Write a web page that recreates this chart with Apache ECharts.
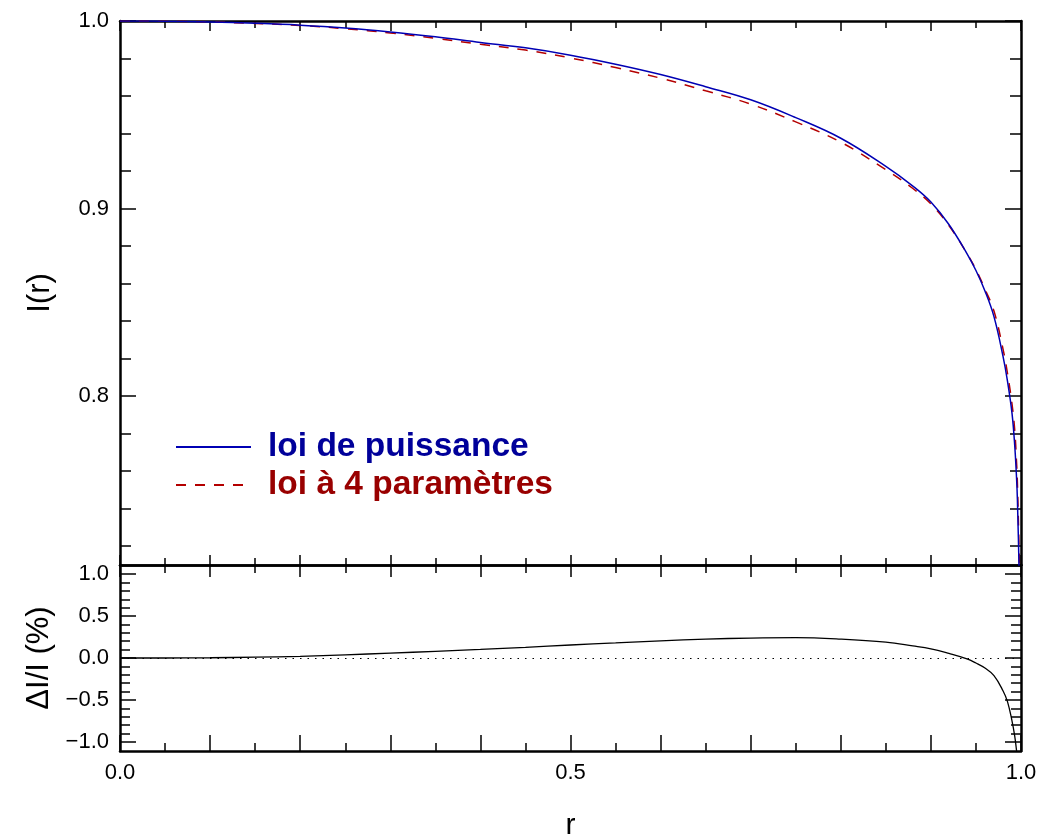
<!DOCTYPE html>
<html><head><meta charset="utf-8">
<script src="https://cdn.jsdelivr.net/npm/echarts@6/dist/echarts.min.js"></script>
<style>html,body{margin:0;padding:0;background:#fff}#c{width:1040px;height:839px}</style>
</head><body><div id="c"></div>
<script>
// ---- data ----
const rVals = [0, 0.05, 0.1, 0.15, 0.2, 0.25, 0.3, 0.35, 0.4, 0.45, 0.5, 0.55, 0.6, 0.65, 0.7, 0.75, 0.8, 0.85, 0.88, 0.9, 0.92, 0.94, 0.95, 0.96, 0.97, 0.98, 0.985, 0.99, 0.993, 0.995, 0.996, 0.998, 0.999];
const powerLaw = [1.0, 0.9999, 0.9995, 0.9988, 0.9978, 0.9963, 0.9942, 0.9916, 0.9886, 0.9857, 0.9818, 0.977, 0.9715, 0.965, 0.958, 0.9485, 0.9375, 0.9225, 0.912, 0.9035, 0.8915, 0.876, 0.867, 0.8561, 0.8424, 0.8213, 0.808, 0.791, 0.774, 0.757, 0.745, 0.705, 0.68];
const fourParam = [1.0, 0.9999, 0.9995, 0.9987, 0.9976, 0.9959, 0.9936, 0.9908, 0.9876, 0.9845, 0.9803, 0.9752, 0.9695, 0.9628, 0.9557, 0.9462, 0.9354, 0.9207, 0.9107, 0.9025, 0.891, 0.8761, 0.8675, 0.8571, 0.8454, 0.8252, 0.8122, 0.7959, 0.7822, 0.7653, 0.754, 0.715, 0.69];
const deltaPct = [0, 0.0, 0.003, 0.01, 0.02, 0.038, 0.058, 0.08, 0.103, 0.128, 0.155, 0.18, 0.205, 0.225, 0.238, 0.243, 0.226, 0.19, 0.145, 0.11, 0.055, -0.01, -0.06, -0.12, -0.21, -0.39, -0.52, -0.75, -0.93, -1.1, -1.2, -1.5, -1.8];

const topMajorTicks = [0.8, 0.9, 1.0];
const topMinorTicks = [0.72, 0.74, 0.76, 0.78, 0.82, 0.84, 0.86, 0.88, 0.92, 0.94, 0.96, 0.98];
const botMajorTicks = [-1.0, -0.5, 0.0, 0.5, 1.0];
const botMinorTicks = [-0.9, -0.8, -0.7, -0.6, -0.4, -0.3, -0.2, -0.1, 0.1, 0.2, 0.3, 0.4, 0.6, 0.7, 0.8, 0.9];
const xLabelTicks = [0.0, 0.5, 1.0];

const seriesNames = ['loi de puissance', 'loi à 4 paramètres'];

// ---- chart ----
const FONT = 'Liberation Sans';
const fmt = v => (v < 0 ? '\u2212' : '') + Math.abs(v).toFixed(1);
const BORDER = {show: true, onZero: false, lineStyle: {color: '#000', width: 2.5}};
const NOLINE = {show: false, onZero: false};

function xAx(gridIndex, position, longLen, shortLen, labels) {
  return {
    type: 'value', gridIndex, position, min: 0, max: 1, interval: 0.1,
    axisLine: BORDER,
    axisTick: {show: true, inside: true, length: longLen, lineStyle: {color: '#000', width: 1.5}},
    minorTick: {show: true, splitNumber: 2, length: shortLen, lineStyle: {color: '#000', width: 1.5}},
    axisLabel: labels ? {show: true, customValues: xLabelTicks, formatter: fmt, fontSize: 22, color: '#000', fontFamily: FONT, margin: 11} : {show: false},
    splitLine: {show: false}, minorSplitLine: {show: false}
  };
}
function yAx(gridIndex, position, min, max, ticks, len, line, labels, name) {
  const o = {
    type: 'value', gridIndex, position, min, max,
    axisLine: line ? BORDER : NOLINE,
    axisTick: {show: true, inside: true, length: len, customValues: ticks, lineStyle: {color: '#000', width: 1.5}},
    axisLabel: labels ? {show: true, customValues: labels, formatter: fmt, fontSize: 22, color: '#000', fontFamily: FONT, margin: 11} : {show: false},
    splitLine: {show: false}
  };
  if (name) {
    o.name = name; o.nameLocation = 'middle'; o.nameGap = 64; o.nameRotate = 90;
    o.nameTextStyle = {fontSize: 31, color: '#000', fontFamily: FONT};
  }
  return o;
}

const chart = echarts.init(document.getElementById('c'), null, {renderer: 'canvas'});
chart.setOption({
  animation: false,
  backgroundColor: '#fff',
  grid: [
    {left: 120, top: 21, width: 901, height: 544, outerBoundsMode: 'none', containLabel: false},
    {left: 120, top: 565, width: 901, height: 186, outerBoundsMode: 'none', containLabel: false}
  ],
  xAxis: [
    xAx(0, 'bottom', 10, 7, false),
    xAx(0, 'top', 10, 7, false),
    Object.assign(xAx(1, 'bottom', 16, 8, true), {name: 'r', nameLocation: 'middle', nameGap: 60, nameTextStyle: {fontSize: 30, color: '#000', fontFamily: FONT}}),
    xAx(1, 'top', 12, 8, false)
  ],
  yAxis: [
    yAx(0, 'left', 0.71, 1.0, topMajorTicks, 16, true, topMajorTicks, 'I(r)'),
    yAx(0, 'left', 0.71, 1.0, topMinorTicks, 11, false, null),
    yAx(0, 'right', 0.71, 1.0, topMajorTicks, 16, true, null),
    yAx(0, 'right', 0.71, 1.0, topMinorTicks, 11, false, null),
    yAx(1, 'left', -1.11, 1.11, botMajorTicks, 16, true, botMajorTicks, '\u0394I/I (%)'),
    yAx(1, 'left', -1.11, 1.11, botMinorTicks, 10, false, null),
    yAx(1, 'right', -1.11, 1.11, botMajorTicks, 16, true, null),
    yAx(1, 'right', -1.11, 1.11, botMinorTicks, 10, false, null)
  ],
  legend: {
    left: 175, top: 430, padding: 0, orient: 'vertical', itemWidth: 75, itemHeight: 14, itemGap: 4,
    selectedMode: false,
    itemStyle: {opacity: 0},
    data: [
      {name: seriesNames[0], textStyle: {color: '#00009a'}},
      {name: seriesNames[1], textStyle: {color: '#990000'}}
    ],
    textStyle: {fontSize: 33.5, fontWeight: 'bold', fontFamily: FONT, padding: [0, 0, 0, 12]}
  },
  series: [
    {
      name: seriesNames[0], type: 'line', xAxisIndex: 0, yAxisIndex: 0,
      data: rVals.map((r, i) => [r, powerLaw[i]]),
      symbol: 'none', smooth: 0.4, clip: true,
      lineStyle: {color: '#0000b4', width: 1.5}, itemStyle: {color: '#0000b4'}, z: 3
    },
    {
      name: seriesNames[1], type: 'line', xAxisIndex: 0, yAxisIndex: 0,
      data: rVals.map((r, i) => [r, fourParam[i]]),
      symbol: 'none', smooth: 0.4, clip: true,
      lineStyle: {color: '#b40000', width: 1.5, type: [10, 9]}, itemStyle: {color: '#b40000'}, z: 2
    },
    {
      name: 'delta', type: 'line', xAxisIndex: 2, yAxisIndex: 4,
      data: rVals.map((r, i) => [r, deltaPct[i]]),
      symbol: 'none', smooth: 0.4, clip: true,
      lineStyle: {color: '#000', width: 1.3}, itemStyle: {color: '#000'},
      markLine: {
        silent: true, symbol: 'none', label: {show: false},
        lineStyle: {color: '#000', width: 1.2, type: [1.5, 6]},
        data: [{yAxis: 0}]
      }
    }
  ]
});
</script>
</body></html>
